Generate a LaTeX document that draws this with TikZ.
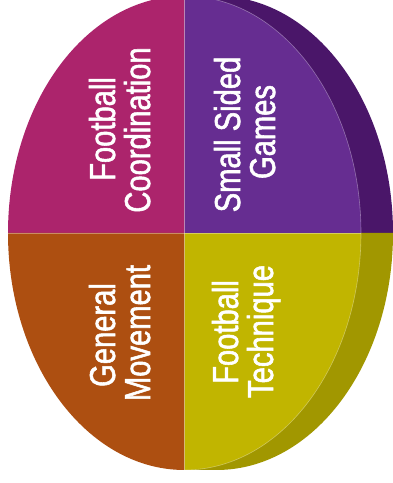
\documentclass[tikz,border=0pt]{standalone}
\usepackage{fontspec}
\newfontfamily\quadfont[FakeStretch=0.81,FakeBold=1.5]{Liberation Sans}
\definecolor{coordmag}{RGB}{172,36,108}
\definecolor{gamespurple}{RGB}{102,45,145}
\definecolor{gamesdark}{RGB}{74,22,105}
\definecolor{movebrown}{RGB}{173,79,17}
\definecolor{techyellow}{RGB}{193,181,0}
\definecolor{techdark}{RGB}{161,151,0}

\begin{document}
\begin{tikzpicture}[x=1pt,y=1pt]
\tikzset{quad text/.style={rotate=90, anchor=base, inner sep=0pt, text=white, font=\quadfont\fontsize{36}{36}\selectfont}}
\tikzset{seam/.style={white, opacity=0.35, line width=0.6pt}}
\useasboundingbox (0,0) rectangle (393,483);
\clip (0,0) rectangle (393,483);
\coordinate (c) at (184.5,250);
% depth of the disc
\fill[gamesdark] (c) -- ++(0,237) -- ++(32,0) arc[start angle=90, end angle=0, x radius=176.5, y radius=237] -- cycle;
\fill[techdark] (c) -- ++(208.5,0) arc[start angle=0, end angle=-90, x radius=176.5, y radius=237] -- ++(-32,0) -- cycle;
% front face
\fill[coordmag] (c) -- ++(0,237) arc[start angle=90, end angle=180, x radius=176.5, y radius=237] -- cycle;
\fill[movebrown] (c) -- ++(-176.5,0) arc[start angle=180, end angle=270, x radius=176.5, y radius=237] -- cycle;
\fill[techyellow] (c) -- ++(0,-237) arc[start angle=270, end angle=360, x radius=176.5, y radius=237] -- cycle;
\fill[gamespurple] (c) -- ++(176.5,0) arc[start angle=0, end angle=90, x radius=176.5, y radius=237] -- cycle;
\draw[seam] (c) ++(0,237) -- ++(0,-474);
\draw[seam] (c) ++(-176.5,0) -- ++(353,0);
\draw[seam] (c) ++(0,237) arc[start angle=90, end angle=-90, x radius=176.5, y radius=237];
% labels
\node[quad text] (fc1) at (115,354) {Football};
\node[quad text] (fc2) at (150,353) {Coordination};
\node[quad text] (ss1) at (240,348.5) {Small Sided};
\node[quad text] (ss2) at (275,351) {Games};
\node[quad text] (gm1) at (115,148) {General};
\node[quad text] (gm2) at (150,150) {Movement};
\node[quad text] (ft1) at (238,151) {Football};
\node[quad text] (ft2) at (273,151.5) {Technique};
\end{tikzpicture}
\end{document}
